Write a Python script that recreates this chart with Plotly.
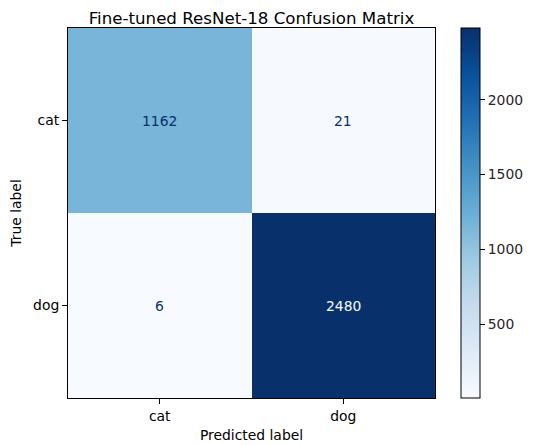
import plotly.graph_objects as go

classes = ["cat", "dog"]
row_cat = [1162, 21]
row_dog = [6, 2480]
cbar_ticks = [500, 1000, 1500, 2000]

z = [row_cat, row_dog]
zmin = min(min(r) for r in z)
zmax = max(max(r) for r in z)

blues = [
    [0.0, "#f7fbff"], [0.125, "#deebf7"], [0.25, "#c6dbef"], [0.375, "#9ecae1"],
    [0.5, "#6baed6"], [0.625, "#4292c6"], [0.75, "#2171b5"], [0.875, "#08519c"],
    [1.0, "#08306b"],
]

# page body has an 8px margin; lay out in figure coordinates offset by 8
W, H = 528, 437
L, T = 60, 20
PR, PB = 427, 390
R, B = W - PR, H - PB
FS = 13.9

fig = go.Figure()
fig.add_trace(go.Heatmap(
    z=z, x=classes, y=classes, colorscale=blues, zmin=zmin, zmax=zmax,
    colorbar=dict(
        tickvals=cbar_ticks, ticks="outside", ticklen=5, tickcolor="black",
        outlinecolor="black", outlinewidth=1, thickness=19,
        len=1.0, lenmode="fraction", y=0.5, yanchor="middle", ypad=0,
        x=1 + (453 - PR) / (PR - L), xpad=0, xanchor="left",
        tickfont=dict(family="DejaVu Sans", size=FS, color="#262626"),
    ),
    hoverinfo="skip",
))

mid = (zmin + zmax) / 2
for i, yl in enumerate(classes):
    for j, xl in enumerate(classes):
        v = z[i][j]
        col = "#f7fbff" if v > mid else "#08306b"
        fig.add_annotation(x=xl, y=yl, text=str(v), showarrow=False,
                           font=dict(family="DejaVu Sans", size=FS, color=col))

axis_common = dict(
    showline=True, linecolor="black", linewidth=1, mirror=True,
    ticks="outside", ticklen=5, tickcolor="black", automargin=False,
    tickfont=dict(family="DejaVu Sans", size=FS, color="black"),
    showgrid=False, zeroline=False,
)
fig.update_xaxes(**axis_common, title=dict(text="Predicted label", font=dict(family="DejaVu Sans", size=FS, color="black"), standoff=7))
fig.update_yaxes(**axis_common, autorange="reversed", title=dict(text="True label", font=dict(family="DejaVu Sans", size=FS, color="black"), standoff=19))

fig.update_layout(
    width=W, height=H,
    margin=dict(l=L, r=R, t=T, b=B, autoexpand=False),
    paper_bgcolor="white", plot_bgcolor="white",
    title=dict(text="Fine-tuned ResNet-18 Confusion Matrix", x=(L + PR) / 2 / W, xanchor="center",
               y=1 - 10 / H, yanchor="middle",
               font=dict(family="DejaVu Sans", size=16.67, color="black")),
)

fig.write_html("out.html")
